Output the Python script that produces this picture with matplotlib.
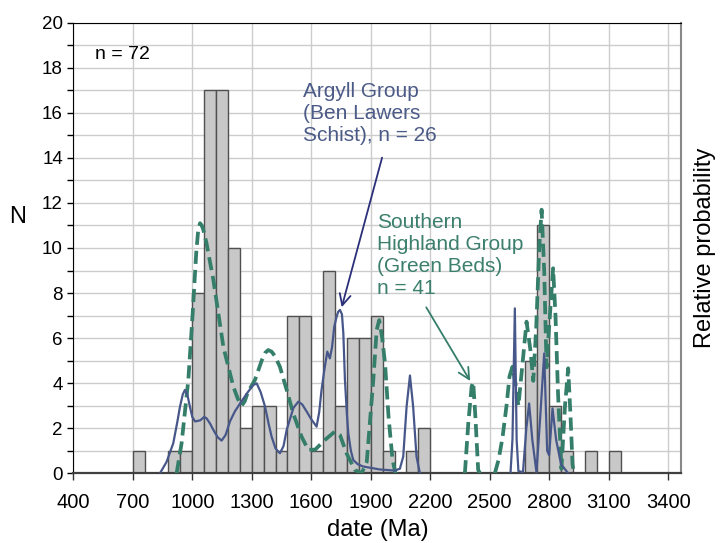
import numpy as np
import matplotlib
matplotlib.use('Agg')
import matplotlib.pyplot as plt

plt.rcParams['font.family'] = ['Liberation Sans', 'DejaVu Sans']

# histogram bins (left edge, Ma) and counts, 60 Ma wide
bin_left = [700, 880, 940, 1000, 1060, 1120, 1180, 1240, 1300, 1360, 1420, 1480, 1540, 1600,
            1660, 1720, 1780, 1840, 1900, 1960, 2080, 2140, 2680, 2740, 2800, 2860, 2980, 3100]
counts = [1, 1, 1, 8, 17, 17, 10, 2, 3, 3, 1, 7, 7, 1,
          9, 3, 6, 6, 7, 1, 1, 2, 5, 11, 3, 1, 1, 1]
bin_width = 60

# probability curves (scaled to the N axis), NaN = gap
argyll_age = [837, 870, 904, 925, 938, 952, 963, 975, 988, 1000, 1014, 1040, 1060, 1072, 1090, 1106,
              1128, 1148, 1168, 1190, 1215, 1241, 1280, 1308, 1325, 1345,
              1367, 1385, 1400, 1420, 1442, 1460, 1476, 1510, 1535, 1555, 1577, 1600, 1627, 1640, 1652,
              1668, 1681, 1694, 1705, 1716, 1728, 1736, 1745, 1755, 1762, 1770,
              1780, 1787, 1800, 1812, 1835, 1862, 1946, 2020, 2047, 2064, 2081, 2098, 2114, 2131, 2148,
              np.nan,
              2605, 2615, 2627, 2636, 2645, 2668, 2685, 2699, 2715, 2736, 2755, 2775, 2790, 2800,
              2817, 2835, 2860, 2896]
argyll_p = [0, 0.5, 1.33, 2.3, 2.96, 3.5, 3.7, 3.5, 2.96, 2.5, 2.3, 2.35, 2.5, 2.44, 2.2, 1.93,
            1.6, 1.45, 1.7, 2.3, 2.75, 3.1, 3.6, 3.92, 3.99, 3.6,
            2.96, 2.2, 1.63, 1.1, 0.89, 1.2, 1.92, 2.9, 3.18, 3.05, 2.74, 2.4, 2.07, 2.7, 3.7,
            4.7, 5.4, 5.1, 5.6, 6.5, 6.95, 7.17, 7.25, 7.05, 6.2, 4.14,
            2.6, 1.77, 1.0, 0.59, 0.4, 0.3, 0.17, 0.12, 0.2, 0.74, 2.96, 4.34, 2.96, 0.74, 0,
            np.nan,
            0, 1.5, 7.32, 1.5, 0.1, 0.05, 2.0, 3.1, 1.5, 0.05, 2.5, 5.32, 1.0, 0.8,
            2.88, 1.5, 0.4, 0]

shg_age = [921, 946, 980, 1002, 1020, 1030, 1039, 1048, 1056, 1072, 1106, 1157, 1207, 1230, 1249, 1265, 1280,
           1316, 1350, 1368, 1383, 1400, 1417, 1442, 1476, 1509, 1551, 1585, 1620, 1669, 1719, 1745,
           1778, 1820, 1854, 1880, 1913, 1930, 1943, 1958, 1972, 1990, 2010, 2025, np.nan,
           2375, 2392, 2409, 2417, 2428, 2442, 2451, np.nan,
           2526, 2545, 2565, 2585, 2600, 2615, 2630, 2645, 2665, 2686, 2705, 2720, 2735, 2750,
           2762, 2775, 2787, 2800, 2820, 2832, 2845, 2862, 2880, 2896, 2908, 2918, 2925]
shg_p = [0, 1.33, 4.14, 7.1, 9.8, 10.8, 11.1, 11.0, 10.8, 10.2, 8.6, 5.6, 3.85, 3.3, 3.0, 3.2, 3.6,
         4.14, 5.0, 5.35, 5.47, 5.4, 5.2, 4.73, 3.7, 2.66, 1.63, 1.04, 1.05, 1.48, 1.85, 1.7,
         0.89, 0.15, 0, 0.5, 4.14, 6.36, 6.8, 6.0, 4.9, 2.5, 0.6, 0, np.nan,
         0, 2.2, 3.85, 4.05, 2.5, 0.15, 0, np.nan,
         0, 0.6, 1.6, 3.0, 4.3, 4.73, 4.0, 3.0, 4.8, 6.73, 5.5, 4.1, 6.5, 10.0,
         11.7, 9.0, 4.7, 6.5, 9.1, 7.0, 3.5, 0.2, 3.0, 4.66, 2.5, 0.4, 0]

xticks = list(range(400, 3401, 300))

blue = '#47578a'
navy = '#2b2f7a'
green = '#357e6a'

fig = plt.figure(figsize=(7.21, 5.43), dpi=100)
ax = fig.add_axes([0.1017, 0.1284, 0.8428, 0.8298])

ax.bar(bin_left, counts, width=bin_width, align='edge', color='#c8c8c8',
       edgecolor='#505050', linewidth=1.0, zorder=2)

ax.set_xlim(400, 3465)
ax.set_ylim(0, 20)
ax.set_xticks(xticks)
ax.set_yticks(range(0, 21, 2))
ax.set_yticks(range(1, 21, 2), minor=True)
ax.tick_params(axis='x', direction='out', length=5, width=1, labelsize=14.5, pad=9, color='#333333')
ax.tick_params(axis='y', which='both', direction='out', length=4.5, width=1, labelsize=13.5, pad=3)
ax.tick_params(axis='y', which='minor', labelleft=False)
ax.set_axisbelow(True)
ax.grid(True, which='both', color='#cccccc', linewidth=1)

ax.spines['left'].set_color('black')
ax.spines['top'].set_color('black')
ax.spines['bottom'].set_color('#404040')
ax.spines['bottom'].set_linewidth(1.6)
ax.spines['right'].set_color('#888888')
ax.spines['right'].set_linewidth(1.5)

ax.set_xlabel('date (Ma)', fontsize=17)
ax.xaxis.set_label_coords(0.501, -0.126)
ax.xaxis.label.set_va('center')
ax.set_ylabel('N', rotation=0, fontsize=17)
ax.yaxis.set_label_coords(-0.091, 0.569)
ax.yaxis.label.set_va('center')

ax2 = ax.twinx()
ax2.set_ylim(0, 20)
ax2.set_yticks([])
for s in ax2.spines.values():
    s.set_visible(False)
ax2.set_ylabel('Relative probability', fontsize=17, rotation=90)
ax2.yaxis.set_label_coords(1.0395, 0.501)
ax2.yaxis.label.set_va('center')

ax2.plot(shg_age, shg_p, color=green, linewidth=2.7, dashes=(3.5, 1.6), zorder=3,
         dash_joinstyle='round')
ax2.plot(argyll_age, argyll_p, color=blue, linewidth=1.6, zorder=4, solid_joinstyle='round')

ax2.text(509, 18.57, 'n = 72', fontsize=14, va='center', ha='left')
ax2.text(1558, 17.37, 'Argyll Group\n(Ben Lawers\nSchist), n = 26', color='#4b5a87',
         fontsize=15, va='top', ha='left')
ax2.text(1931, 11.55, 'Southern\nHighland Group\n(Green Beds)\nn = 41', color='#3c7f6d',
         fontsize=15, va='top', ha='left')

ax2.annotate('', xy=(1750, 7.25), xytext=(1961, 14.13),
             arrowprops=dict(arrowstyle='->', color=navy, lw=1.3, mutation_scale=20))
ax2.annotate('', xy=(2409, 3.99), xytext=(2173, 7.47),
             arrowprops=dict(arrowstyle='->', color=green, lw=1.3, mutation_scale=20))

fig.savefig('out.png', dpi=100)
